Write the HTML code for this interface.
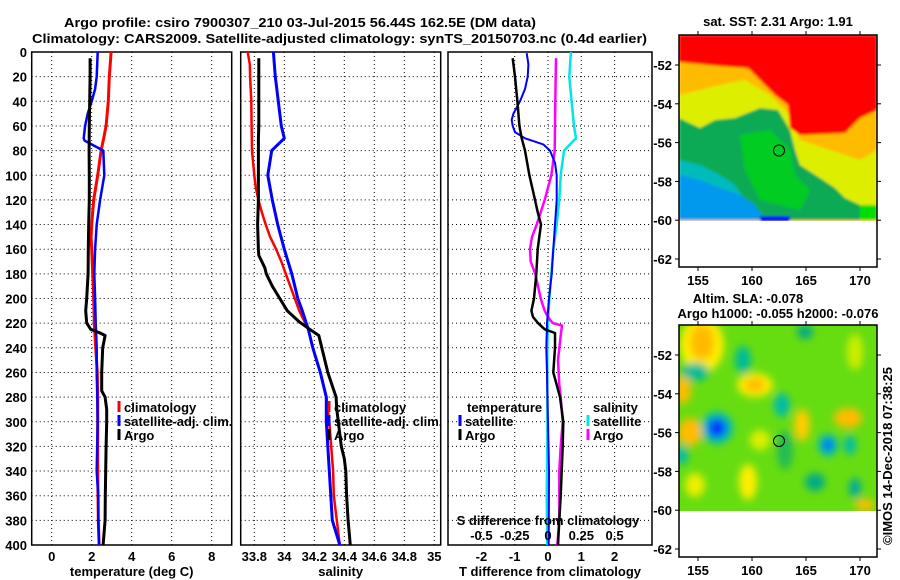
<!DOCTYPE html>
<html><head><meta charset="utf-8"><style>
body{margin:0;background:#fff}
svg{display:block}
text{font-family:"Liberation Sans",sans-serif;font-weight:bold;font-size:13px;fill:#000}
</style></head><body>
<svg id="fig" width="900" height="580" viewBox="0 0 900 580" xmlns="http://www.w3.org/2000/svg">
<defs>
<filter id="blur" x="-20%" y="-20%" width="140%" height="140%"><feGaussianBlur stdDeviation="4"/></filter>
<filter id="blur2"><feGaussianBlur stdDeviation="1.2"/></filter>
<clipPath id="m1clip"><rect x="679" y="35" width="198" height="186"/></clipPath>
<clipPath id="m2clip"><rect x="679" y="325" width="198" height="186"/></clipPath>
</defs>
<text x="64" y="27" font-size="15" textLength="472" lengthAdjust="spacingAndGlyphs">Argo profile: csiro 7900307_210 03-Jul-2015 56.44S 162.5E (DM data)</text>
<text x="32" y="43" font-size="15" textLength="615" lengthAdjust="spacingAndGlyphs">Climatology: CARS2009. Satellite-adjusted climatology: synTS_20150703.nc (0.4d earlier)</text>

<!-- Map 1 -->
<g>
<text x="778" y="26" text-anchor="middle">sat. SST: 2.31 Argo: 1.91</text>
<g clip-path="url(#m1clip)" filter="url(#blur2)">
<rect x="679" y="35" width="198" height="186" fill="#ffbb00"/>
<polygon points="679,95 700,90 720,85 745,80 770,95 790,115 800,140 830,150 860,160 877,150 877,220 679,220" fill="#ddee00"/>
<polygon points="679,35 877,35 877,110 860,118 845,133 800,135 790,128 788,105 775,95 760,80 748,68 720,66 679,62" fill="#ff0000"/>
<polygon points="679,118 700,128 715,120 735,118 760,108 778,110 790,130 795,150 800,165 820,178 835,188 845,198 860,205 877,210 877,220 679,220" fill="#11aa55"/>
<polygon points="740,135 770,130 790,150 795,175 810,190 800,210 760,200 745,170" fill="#00cc22"/>
<polygon points="679,160 700,165 720,175 735,185 745,200 748,220 679,220" fill="#00bbbb"/>
<polygon points="679,175 700,180 720,188 740,195 755,205 765,220 679,220" fill="#0099ee"/>
<rect x="760" y="216" width="30" height="5" fill="#0000ee"/>
<rect x="860" y="205" width="17" height="15" fill="#00dd00"/>
</g>
<rect x="679" y="221" width="198" height="46" fill="#fff"/>
<rect x="679" y="35" width="198" height="232" fill="none" stroke="#000" stroke-width="1.5"/>
<circle cx="779" cy="150.5" r="5.5" fill="none" stroke="#000" stroke-width="1"/>
<g id="m1ticks"></g>
</g>

<!-- Map 2 -->
<g>
<text x="748" y="303" text-anchor="middle">Altim. SLA: -0.078</text>
<text x="778" y="318" text-anchor="middle">Argo h1000: -0.055 h2000: -0.076</text>
<g clip-path="url(#m2clip)">
<rect x="679" y="325" width="198" height="186" fill="#66dd11"/>
<g filter="url(#blur)">
<ellipse cx="702" cy="345" rx="22" ry="28" fill="#ffee00"/>
<ellipse cx="702" cy="342" rx="12" ry="18" fill="#ffbb00"/>
<ellipse cx="695" cy="372" rx="14" ry="9" fill="#00bb99"/>
<ellipse cx="743" cy="360" rx="8" ry="14" fill="#00bb99"/>
<ellipse cx="755" cy="385" rx="18" ry="12" fill="#ffee00"/>
<ellipse cx="755" cy="385" rx="10" ry="7" fill="#ffbb00"/>
<ellipse cx="683" cy="390" rx="8" ry="14" fill="#ffbb00"/>
<ellipse cx="690" cy="432" rx="12" ry="14" fill="#ffbb00"/>
<ellipse cx="717" cy="428" rx="16" ry="16" fill="#00bbbb"/>
<ellipse cx="717" cy="428" rx="9" ry="9" fill="#0033ff"/>
<ellipse cx="782" cy="405" rx="8" ry="12" fill="#00bbaa"/>
<ellipse cx="802" cy="425" rx="8" ry="16" fill="#ffcc00"/>
<ellipse cx="828" cy="445" rx="10" ry="11" fill="#00bbbb"/>
<ellipse cx="828" cy="445" rx="5" ry="6" fill="#0066ff"/>
<ellipse cx="850" cy="445" rx="6" ry="10" fill="#00bbaa"/>
<ellipse cx="848" cy="418" rx="14" ry="10" fill="#ffbb00"/>
<ellipse cx="815" cy="482" rx="10" ry="9" fill="#00aa88"/>
<ellipse cx="855" cy="488" rx="6" ry="10" fill="#00aa99"/>
<ellipse cx="748" cy="482" rx="9" ry="18" fill="#ffee00"/>
<ellipse cx="695" cy="485" rx="10" ry="12" fill="#eeee00"/>
<ellipse cx="682" cy="455" rx="6" ry="10" fill="#00bbaa"/>
<ellipse cx="805" cy="332" rx="8" ry="7" fill="#00aa88"/>
<ellipse cx="865" cy="505" rx="10" ry="6" fill="#ffbb00"/>
<ellipse cx="855" cy="352" rx="8" ry="18" fill="#ccee00"/>
<ellipse cx="785" cy="450" rx="8" ry="20" fill="#22bb55"/>
<ellipse cx="760" cy="440" rx="10" ry="10" fill="#ddee00"/>
</g>
</g>
<rect x="679" y="511" width="198" height="46" fill="#fff"/>
<rect x="679" y="325" width="198" height="232" fill="none" stroke="#000" stroke-width="1.5"/>
<circle cx="779" cy="441" r="5.5" fill="none" stroke="#000" stroke-width="1"/>
<g id="m2ticks"></g>
<text transform="translate(892,545) rotate(-90)" font-weight="normal" font-size="13">©IMOS 14-Dec-2018 07:38:25</text>
</g>

<g id="panels"></g>
</svg>
<script>
// ---- data (depth in m) ----
const tempClimDepth = [0,20,40,60,70,80,100,120,140,150,160,180,200,220,240,260,280,300,340,380,400];
const tempClimValue = [2.97,2.88,2.83,2.72,2.6,2.47,2.3,2.1,2.0,1.97,2.0,2.05,2.1,2.13,2.2,2.28,2.3,2.3,2.3,2.33,2.37];
const tempSatDepth = [0,20,30,40,50,60,70,72,80,100,120,140,160,180,200,220,240,260,280,300,340,360,380,400];
const tempSatValue = [2.3,2.25,2.17,2.0,1.8,1.67,1.6,1.65,2.58,2.63,2.42,2.25,2.17,2.13,2.17,2.2,2.25,2.25,2.28,2.3,2.25,2.33,2.33,2.37];
const tempArgoDepth = [5,20,60,80,100,120,140,160,180,200,210,220,225,228,230,240,260,275,280,290,300,320,340,360,380,390,400];
const tempArgoValue = [1.92,1.92,1.88,1.87,1.88,1.88,1.85,1.83,1.82,1.75,1.7,1.75,1.95,2.42,2.67,2.55,2.5,2.5,2.67,2.75,2.75,2.72,2.7,2.68,2.67,2.62,2.57];

const salClimDepth = [0,10,20,40,60,80,100,110,120,130,140,150,160,170,180,190,200,210,225,240,260,280,300,340,360,380,400];
const salClimValue = [33.756,33.77,33.772,33.78,33.782,33.785,33.8,33.81,33.827,33.85,33.876,33.905,33.945,33.98,34.01,34.04,34.07,34.1,34.16,34.19,34.24,34.28,34.3,34.325,34.33,34.35,34.37];
const salSatDepth = [0,20,40,60,70,80,100,120,140,160,180,200,210,225,240,260,280,300,340,380,400];
const salSatValue = [33.927,33.94,33.96,33.98,34.0,33.916,33.89,33.92,33.956,34.0,34.05,34.09,34.12,34.16,34.19,34.24,34.28,34.28,34.3,34.32,34.37];
const salArgoDepth = [5,60,70,100,120,140,160,165,175,180,190,200,210,219,225,230,240,260,280,290,300,320,330,340,360,380,400];
const salArgoValue = [33.83,33.83,33.827,33.827,33.827,33.822,33.827,33.83,33.87,33.88,33.92,33.97,34.02,34.1,34.17,34.23,34.25,34.29,34.345,34.35,34.36,34.38,34.4,34.41,34.415,34.425,34.44];

const dTSatDepth = [1,10,20,30,40,50,55,60,65,70,75,80,90,100,120,140,160,180,200,220,240,260,300,340,400];
const dTSatValue = [-0.64,-0.59,-0.61,-0.69,-0.84,-1.04,-1.09,-1.06,-0.99,-0.69,-0.14,0.06,0.21,0.26,0.26,0.21,0.16,0.11,0.03,-0.03,-0.05,-0.03,0,0.03,0.02];
const dTArgoDepth = [5,20,40,60,70,80,100,120,130,140,150,160,180,200,210,215,220,225,228,240,260,270,280,300,320,340,360,380,400];
const dTArgoValue = [-1.06,-0.99,-0.92,-0.86,-0.79,-0.69,-0.56,-0.39,-0.31,-0.21,-0.26,-0.31,-0.35,-0.42,-0.5,-0.45,-0.3,-0.1,0.21,0.21,0.16,0.26,0.36,0.46,0.44,0.41,0.38,0.34,0.3];
const dSSatDepth = [0,20,40,60,70,80,100,120,140,160,180,200,220,240,280,320,360,400];
const dSSatValue = [0.172,0.16,0.177,0.195,0.21,0.12,0.095,0.085,0.065,0.04,0.025,0.01,0,-0.005,-0.005,-0.005,-0.01,-0.005];
const dSArgoDepth = [5,40,80,100,110,120,130,140,150,160,170,180,190,200,210,215,220,222,230,250,270,280,300,320,340,360,380,400];
const dSArgoValue = [0.06,0.055,0.05,0.025,0,-0.025,-0.055,-0.085,-0.12,-0.135,-0.13,-0.095,-0.075,-0.055,-0.025,0,0.035,0.105,0.095,0.075,0.085,0.095,0.11,0.095,0.085,0.085,0.085,0.07];

const depthTicks = [0,20,40,60,80,100,120,140,160,180,200,220,240,260,280,300,320,340,360,380,400];
const tempTicks = [0,2,4,6,8];
const salTicks = [33.8,34,34.2,34.4,34.6,34.8,35];
const dTTicks = [-2,-1,0,1,2];
const dSTicks = [-0.5,-0.25,0,0.25,0.5];
const latTicks = [-52,-54,-56,-58,-60,-62];
const lonTicks = [155,160,165,170];

// ---- scales ----
const Y = d => 52 + d*1.2325;
const XT = t => 51.7 + 20*t;
const XS = s => 254.3 + (s-33.8)*150;
const XD = t => 548 + 33.3*t;
const XDS = s => 548 + 133.2*s;
const NS = 'http://www.w3.org/2000/svg';
const root = document.getElementById('panels');
function mk(tag, attrs, parent){const e=document.createElementNS(NS,tag);for(const k in attrs)e.setAttribute(k,attrs[k]);(parent||root).appendChild(e);return e;}

const panels = [
 {x0:31.7,x1:231.7,ticks:tempTicks,xf:XT,name:'temperature-panel',title:'temperature (deg C)',fmt:v=>String(v)},
 {x0:240.7,x1:440.7,ticks:salTicks,xf:XS,name:'salinity-panel',title:'salinity',fmt:v=>String(v)},
 {x0:448,x1:652,ticks:dTTicks,xf:XD,name:'difference-panel',title:'T difference from climatology',fmt:v=>String(v)}
];
panels.forEach(p=>{
  const g=mk('g',{});
  
  
  depthTicks.slice(1,-1).forEach(d=>{
    const l=mk('line',{x1:p.x0,x2:p.x1,y1:Y(d),y2:Y(d),stroke:'#000','stroke-width':1,'stroke-dasharray':'1 3'},g);
    
    
  });
  p.ticks.forEach(v=>{
    const x=p.xf(v);
    const l=mk('line',{x1:x,x2:x,y1:52,y2:545,stroke:'#000','stroke-width':1,'stroke-dasharray':'1 3'},g);
    
    
    const t=mk('text',{x:x,y:561,'text-anchor':'middle'},g);
    t.textContent=p.fmt(v);
    
    
  });
  const r=mk('rect',{x:p.x0,y:52,width:p.x1-p.x0,height:493,fill:'none',stroke:'#000','stroke-width':1.5},g);
  
  
  const tt=mk('text',{x:(p.x0+p.x1)/2,y:576,'text-anchor':'middle'},g);
  tt.textContent=p.title;
  
  
});
depthTicks.forEach(d=>{
  const t=mk('text',{x:27,y:Y(d)+5,'text-anchor':'end'});
  t.textContent=String(d);
  
  
});

function series(ds, vs, xf, color, w, name){
  const pts=ds.map((d,i)=>xf(vs[i]).toFixed(1)+','+Y(d).toFixed(1)).join(' ');
  const pl=mk('polyline',{points:pts,fill:'none',stroke:color,'stroke-width':w,'stroke-linejoin':'round'});
  
  
}
series(tempClimDepth,tempClimValue,XT,'#f00',3,'temperature-climatology-line');
series(tempSatDepth,tempSatValue,XT,'#00f',2.5,'temperature-satellite-line');
series(tempArgoDepth,tempArgoValue,XT,'#000',3,'temperature-argo-line');
series(salClimDepth,salClimValue,XS,'#f00',2.5,'salinity-climatology-line');
series(salSatDepth,salSatValue,XS,'#00f',3,'salinity-satellite-line');
series(salArgoDepth,salArgoValue,XS,'#000',3,'salinity-argo-line');
series(dSSatDepth,dSSatValue,XDS,'#00e5e5',2.5,'salinity-diff-satellite-line');
series(dSArgoDepth,dSArgoValue,XDS,'#f0f',2.5,'salinity-diff-argo-line');
series(dTSatDepth,dTSatValue,XD,'#00f',2,'temperature-diff-satellite-line');
series(dTArgoDepth,dTArgoValue,XD,'#000',2.5,'temperature-diff-argo-line');

// legends
function legend(x,y,color,label,name){
  const l=mk('line',{x1:x,x2:x,y1:y-11,y2:y,stroke:color,'stroke-width':3});
  
  
  const t=mk('text',{x:x+5,y:y});
  t.textContent=label;
  
  
}
legend(119,412,'#f00','climatology','legend-temp-climatology');
legend(119,426,'#00f','satellite-adj. clim.','legend-temp-satellite');
legend(119,440,'#000','Argo','legend-temp-argo');
legend(329,412,'#f00','climatology','legend-sal-climatology');
legend(329,426,'#00f','satellite-adj. clim.','legend-sal-satellite');
legend(329,440,'#000','Argo','legend-sal-argo');
legend(460,426,'#00f','satellite','legend-diff-temp-satellite');
legend(460,440,'#000','Argo','legend-diff-temp-argo');
legend(588,426,'#00e5e5','satellite','legend-diff-sal-satellite');
legend(588,440,'#f0f','Argo','legend-diff-sal-argo');
[['temperature',467,'legend-temperature-header'],['salinity',593,'legend-salinity-header']].forEach(a=>{
  const t=mk('text',{x:a[1],y:412});t.textContent=a[0];
  
  
});
const sdt=mk('text',{x:548,y:525,'text-anchor':'middle'});
sdt.textContent='S difference from climatology';


dSTicks.forEach(v=>{
  const t=mk('text',{x:XDS(v),y:540,'text-anchor':'middle'});
  t.textContent=String(v);
  
  
});

// map axes
function mapAxes(gid, top, lat0y){
  const g=document.getElementById(gid);
  latTicks.forEach(v=>{
    const y=lat0y+(-52-v)*19.4;
    mk('line',{x1:675,x2:679,y1:y,y2:y,stroke:'#000'},g);
    mk('line',{x1:877,x2:881,y1:y,y2:y,stroke:'#000'},g);
    const t=mk('text',{x:672,y:y+5,'text-anchor':'end'},g);
    t.textContent=String(v);
    
    
  });
  lonTicks.forEach(v=>{
    const x=698+(v-155)*10.8;
    mk('line',{x1:x,x2:x,y1:top,y2:top-4,stroke:'#000'},g);
    mk('line',{x1:x,x2:x,y1:top+232,y2:top+236,stroke:'#000'},g);
    const t=mk('text',{x:x,y:top+250,'text-anchor':'middle','font-size':14},g);
    t.textContent=String(v);
    
    
  });
}
mapAxes('m1ticks',35,65);
mapAxes('m2ticks',325,355);
</script>
</body></html>
